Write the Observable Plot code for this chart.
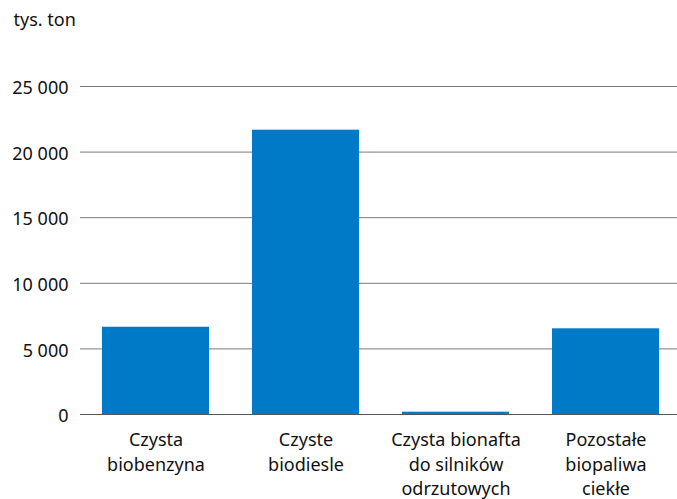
<!DOCTYPE html>
<html>
<head>
<meta charset="utf-8">
<script src="https://cdn.jsdelivr.net/npm/d3@7"></script>
<script src="https://cdn.jsdelivr.net/npm/@observablehq/plot@0.6"></script>
<style>
  html, body { margin: 0; padding: 0; background: #fff; }
  #chart svg { display: block; }
</style>
</head>
<body>
<div id="chart"></div>
<script>
const categories = ["Czysta biobenzyna", "Czyste biodiesle", "Czysta bionafta do silników odrzutowych", "Pozostałe biopaliwa ciekłe"];
const tickLabels = ["Czysta\nbiobenzyna", "Czyste\nbiodiesle", "Czysta bionafta\ndo silników\nodrzutowych", "Pozostałe\nbiopaliwa\nciekłe"];
const values = [6650, 21670, 175, 6530];
const yTicks = [0, 5000, 10000, 15000, 20000, 25000];
const unitLabel = "tys. ton";

const data = categories.map((c, i) => ({category: c, value: values[i]}));
const labelOf = new Map(categories.map((c, i) => [c, tickLabels[i]]));
const fmt = d => d3.format(",")(d).replace(/,/g, " ");

const chart = Plot.plot({
  width: 677,
  height: 499,
  marginTop: 86,
  marginLeft: 80,
  marginRight: 0,
  marginBottom: 85,
  style: {fontFamily: "'Noto Sans', sans-serif", fontSize: "18px", color: "#111", background: "#fff"},
  x: {domain: categories, range: [80, 680], paddingInner: 0.29, paddingOuter: 0.145, align: 0.5, label: null},
  y: {domain: [0, 25000], label: null},
  marks: [
    Plot.ruleY(yTicks.filter(d => d > 0), {stroke: "#7a7a7a", strokeWidth: 1, strokeOpacity: 1}),
    Plot.barY(data, {x: "category", y: "value", fill: "#0079c6"}),
    Plot.ruleY([0], {stroke: "#555", strokeWidth: 1.2}),
    Plot.axisY({ticks: yTicks, tickFormat: fmt, tickSize: 0, tickPadding: 12, dy: 2, fontSize: 18, fill: "#111", label: null}),
    Plot.axisX({tickFormat: d => labelOf.get(d), tickSize: 0, tickPadding: 14, fontSize: 18, fill: "#111", lineHeight: 1.37, label: null}),
    Plot.text([unitLabel], {frameAnchor: "top-left", dx: -67, dy: -73, text: d => d, textAnchor: "start", fontSize: 18, fill: "#111"})
  ]
});
document.getElementById("chart").appendChild(chart);
</script>
</body>
</html>
